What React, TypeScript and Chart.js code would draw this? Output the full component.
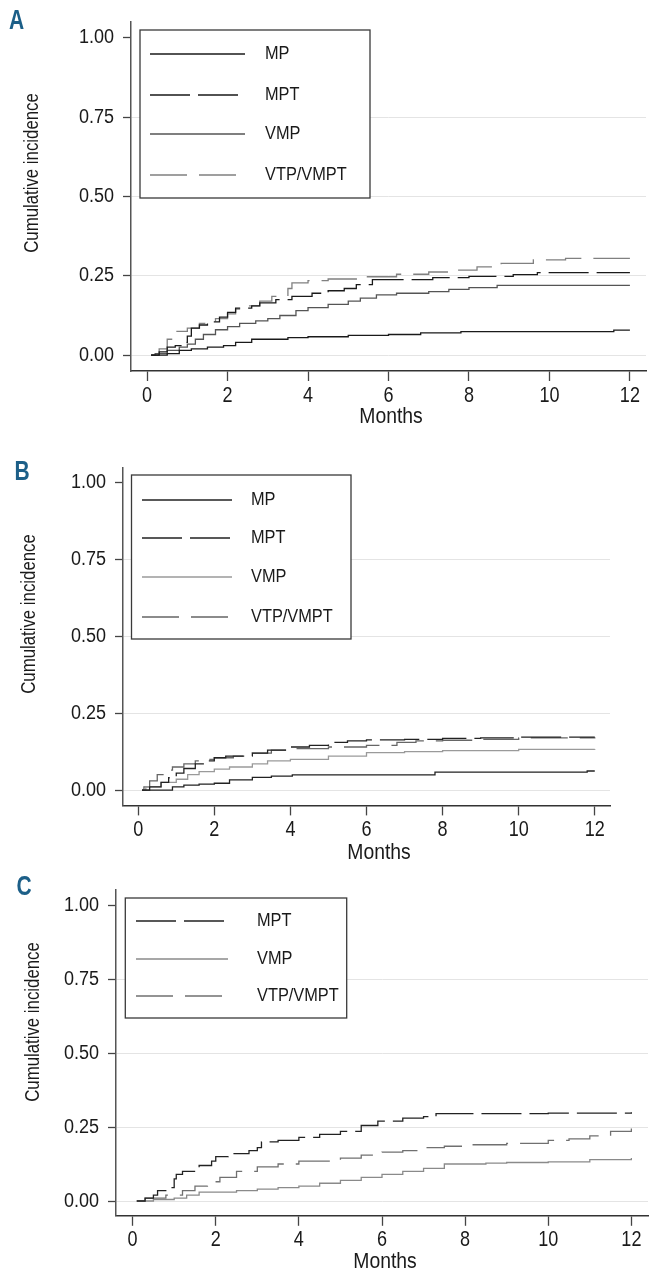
import React, { useEffect, useRef } from 'react';
import { Chart, registerables } from 'chart.js';

Chart.register(...registerables);

// ---------- data ----------
const MONTH_TICKS = [0, 2, 4, 6, 8, 10, 12];
const MONTH_TICK_LABELS = ['0', '2', '4', '6', '8', '10', '12'];
const INCIDENCE_TICKS = [0, 0.25, 0.5, 0.75, 1];
const INCIDENCE_TICK_LABELS = ['0.00', '0.25', '0.50', '0.75', '1.00'];
const X_TITLE = 'Months';
const Y_TITLE = 'Cumulative incidence';
const PANEL_LETTERS = ['A', 'B', 'C'];

// Panel A
const A_MP_T = [0.1, 0.5, 0.8, 1.1, 1.5, 1.9, 2.2, 2.6, 3.5, 4.0, 5.0, 6.0, 6.8, 7.8, 11.6, 12.0];
const A_MP_Y = [0, 0.005, 0.015, 0.02, 0.025, 0.03, 0.04, 0.05, 0.055, 0.058, 0.062, 0.065, 0.07, 0.074, 0.079, 0.079];
const A_MPT_T = [0.1, 0.3, 0.5, 0.7, 0.9, 1.0, 1.1, 1.3, 1.5, 1.8, 2.0, 2.2, 2.6, 2.8, 3.2, 3.6, 4.1, 4.5, 4.9, 5.2, 5.6, 7.1, 8.0, 9.1, 9.7, 12.0];
const A_MPT_Y = [0, 0.01, 0.025, 0.03, 0.04, 0.06, 0.085, 0.095, 0.105, 0.12, 0.135, 0.148, 0.155, 0.165, 0.175, 0.185, 0.195, 0.203, 0.21, 0.222, 0.238, 0.244, 0.248, 0.254, 0.26, 0.26];
const A_VMP_T = [0.1, 0.2, 0.5, 0.8, 1.0, 1.2, 1.4, 1.7, 2.0, 2.3, 2.7, 3.0, 3.3, 3.7, 4.0, 4.5, 5.0, 5.3, 5.7, 6.2, 7.0, 7.5, 8.0, 8.7, 12.0];
const A_VMP_Y = [0, 0.005, 0.015, 0.025, 0.035, 0.05, 0.065, 0.08, 0.09, 0.1, 0.108, 0.115, 0.125, 0.14, 0.15, 0.16, 0.17, 0.18, 0.19, 0.195, 0.2, 0.207, 0.213, 0.22, 0.22];
const A_VTP_T = [0.1, 0.3, 0.5, 0.7, 1.0, 1.3, 1.7, 2.0, 2.2, 2.5, 2.8, 3.1, 3.5, 3.6, 4.0, 4.5, 5.2, 6.2, 7.0, 7.6, 8.2, 8.8, 9.6, 10.4, 12.0];
const A_VTP_Y = [0, 0.02, 0.05, 0.075, 0.085, 0.1, 0.115, 0.13, 0.145, 0.155, 0.17, 0.185, 0.21, 0.228, 0.235, 0.24, 0.247, 0.255, 0.262, 0.268, 0.278, 0.289, 0.3, 0.305, 0.305];

// Panel B
const B_MP_T = [0.1, 0.9, 1.2, 1.6, 2.0, 2.4, 3.0, 3.5, 4.05, 7.8, 11.8, 12.0];
const B_MP_Y = [0, 0.01, 0.016, 0.019, 0.022, 0.033, 0.041, 0.045, 0.049, 0.058, 0.062, 0.062];
const B_MPT_T = [0.1, 0.3, 0.6, 0.8, 1.0, 1.2, 1.5, 1.8, 2.0, 2.3, 3.0, 3.4, 4.0, 4.5, 5.0, 5.5, 6.0, 7.0, 8.0, 9.0, 10.0, 12.0];
const B_MPT_Y = [0, 0.01, 0.025, 0.04, 0.055, 0.07, 0.085, 0.095, 0.105, 0.11, 0.12, 0.13, 0.14, 0.145, 0.155, 0.16, 0.163, 0.165, 0.168, 0.17, 0.172, 0.172];
const B_VMP_T = [0.1, 0.2, 0.6, 1.0, 1.3, 1.6, 2.0, 2.4, 3.0, 3.4, 4.0, 5.0, 6.0, 7.0, 8.0, 10.0, 12.0];
const B_VMP_Y = [0, 0.01, 0.025, 0.035, 0.05, 0.06, 0.068, 0.075, 0.085, 0.095, 0.1, 0.11, 0.122, 0.125, 0.128, 0.132, 0.133];
const B_VTP_T = [0.1, 0.15, 0.3, 0.5, 0.7, 0.9, 1.2, 1.5, 1.8, 2.0, 2.5, 3.0, 3.5, 4.0, 5.0, 6.0, 6.8, 7.3, 8.0, 9.0, 10.0, 12.0];
const B_VTP_Y = [0, 0.01, 0.03, 0.05, 0.065, 0.075, 0.085, 0.095, 0.1, 0.105, 0.11, 0.12, 0.13, 0.135, 0.14, 0.145, 0.155, 0.16, 0.162, 0.165, 0.17, 0.172];

// Panel C
const C_MPT_T = [0.1, 0.3, 0.5, 0.6, 0.9, 1.0, 1.05, 1.2, 1.6, 1.9, 2.0, 2.3, 2.8, 3.0, 3.1, 3.5, 4.0, 4.5, 5.0, 5.5, 5.9, 6.5, 7.0, 7.3, 10.0, 12.0];
const C_MPT_Y = [0, 0.01, 0.02, 0.035, 0.045, 0.075, 0.09, 0.1, 0.12, 0.135, 0.15, 0.16, 0.17, 0.18, 0.2, 0.205, 0.215, 0.225, 0.235, 0.255, 0.27, 0.28, 0.285, 0.295, 0.297, 0.3];
const C_VMP_T = [0.1, 0.5, 1.0, 1.3, 1.6, 2.5, 3.0, 3.5, 4.0, 4.5, 5.0, 5.5, 6.0, 6.5, 7.0, 7.5, 8.5, 9.0, 10.0, 11.0, 12.0];
const C_VMP_Y = [0, 0.005, 0.01, 0.02, 0.03, 0.035, 0.04, 0.045, 0.05, 0.06, 0.07, 0.08, 0.09, 0.1, 0.11, 0.125, 0.128, 0.13, 0.132, 0.14, 0.145];
const C_VTP_T = [0.1, 0.3, 0.8, 1.2, 1.5, 1.8, 2.1, 2.5, 3.0, 3.5, 4.0, 5.0, 5.5, 6.0, 6.5, 7.0, 7.5, 8.0, 9.0, 10.0, 10.5, 11.0, 11.5, 12.0];
const C_VTP_Y = [0, 0.01, 0.02, 0.035, 0.05, 0.065, 0.08, 0.1, 0.115, 0.125, 0.135, 0.145, 0.155, 0.165, 0.17, 0.18, 0.185, 0.19, 0.195, 0.205, 0.21, 0.22, 0.235, 0.245];

// ---------- styling ----------
const FONT = '"Liberation Sans", Arial, Helvetica, sans-serif';
const W = 655;

function pts(t: number[], y: number[]) {
  return t.map((x, i) => ({ x, y: y[i] }));
}

function series(label: string, t: number[], y: number[], color: string, dash: number[]) {
  return {
    label,
    data: pts(t, y),
    borderColor: color,
    backgroundColor: color,
    borderWidth: 1.3,
    borderDash: dash,
    stepped: true,
    pointRadius: 0,
    fill: false,
    tension: 0,
  };
}

const SOLID: number[] = [];
const DASH_MPT = [40, 8];
const DASH_VTP = [37, 12];

const PANELS = [
  {
    top: 0,
    h: 440,
    plot: { left: 131, right: 646, top: 22, bottom: 371 },
    letter: { x: 9, y: 29 },
    yTitle: { x: 32, y: 173 },
    xTitle: { x: 391, y: 417 },
    legend: { x1: 140, y1: 30, x2: 370, y2: 198, sx1: 150, sx2: 245, tx: 265, rows: [54, 95, 134, 175] },
    datasets: () => [
      series('MP', A_MP_T, A_MP_Y, '#1a1a1a', SOLID),
      series('MPT', A_MPT_T, A_MPT_Y, '#1a1a1a', DASH_MPT),
      series('VMP', A_VMP_T, A_VMP_Y, '#555555', SOLID),
      series('VTP/VMPT', A_VTP_T, A_VTP_Y, '#808080', DASH_VTP),
    ],
  },
  {
    top: 440,
    h: 430,
    plot: { left: 123, right: 610, top: 27.3, bottom: 365.4 },
    letter: { x: 14.5, y: 40 },
    yTitle: { x: 29, y: 174 },
    xTitle: { x: 379, y: 413 },
    legend: { x1: 131.5, y1: 35, x2: 351, y2: 199, sx1: 142, sx2: 232, tx: 251, rows: [60, 98, 137, 177] },
    datasets: () => [
      series('MP', B_MP_T, B_MP_Y, '#222222', SOLID),
      series('MPT', B_MPT_T, B_MPT_Y, '#222222', DASH_MPT),
      series('VMP', B_VMP_T, B_VMP_Y, '#9a9a9a', SOLID),
      series('VTP/VMPT', B_VTP_T, B_VTP_Y, '#666666', DASH_VTP),
    ],
  },
  {
    top: 870,
    h: 410,
    plot: { left: 116, right: 648, top: 20.2, bottom: 345.8 },
    letter: { x: 16.5, y: 25 },
    yTitle: { x: 33.4, y: 152 },
    xTitle: { x: 385, y: 392 },
    legend: { x1: 125.3, y1: 28, x2: 346.7, y2: 148, sx1: 136, sx2: 228, tx: 257, rows: [51, 89, 126] },
    datasets: () => [
      series('MPT', C_MPT_T, C_MPT_Y, '#222222', DASH_MPT),
      series('VMP', C_VMP_T, C_VMP_Y, '#8a8a8a', SOLID),
      series('VTP/VMPT', C_VTP_T, C_VTP_Y, '#707070', DASH_VTP),
    ],
  },
];

function drawText(
  ctx: CanvasRenderingContext2D,
  text: string,
  x: number,
  y: number,
  font: string,
  sx: number,
  align: CanvasTextAlign,
  baseline: CanvasTextBaseline,
  rot: number,
  color: string
) {
  ctx.save();
  ctx.translate(x, y);
  if (rot) ctx.rotate(rot);
  ctx.scale(sx, 1);
  ctx.font = font;
  ctx.fillStyle = color;
  ctx.textAlign = align;
  ctx.textBaseline = baseline;
  ctx.fillText(text, 0, 0);
  ctx.restore();
}

const decorPlugin = {
  id: 'panelDecor',
  afterDraw(chart: any, _args: any, opts: any) {
    const ctx: CanvasRenderingContext2D = chart.ctx;
    const L = opts.legend;
    const xs = chart.scales.x;
    const ys = chart.scales.y;
    ctx.save();
    // tick labels, placed through the chart's own scales
    MONTH_TICKS.forEach((v, i) => {
      const px = xs.getPixelForValue(v);
      drawText(ctx, MONTH_TICK_LABELS[i], px, xs.top + 24.5, `22px ${FONT}`, 0.82, 'center', 'middle', 0, '#1a1a1a');
    });
    INCIDENCE_TICKS.forEach((v, i) => {
      const py = ys.getPixelForValue(v);
      drawText(ctx, INCIDENCE_TICK_LABELS[i], ys.right - 17, py, `20px ${FONT}`, 0.9, 'right', 'middle', 0, '#1a1a1a');
    });
    // legend box
    ctx.fillStyle = '#ffffff';
    ctx.fillRect(L.x1, L.y1, L.x2 - L.x1, L.y2 - L.y1);
    ctx.strokeStyle = '#3a3a3a';
    ctx.lineWidth = 1.3;
    ctx.setLineDash([]);
    ctx.strokeRect(L.x1, L.y1, L.x2 - L.x1, L.y2 - L.y1);
    chart.data.datasets.forEach((ds: any, i: number) => {
      const y = L.rows[i];
      ctx.beginPath();
      ctx.setLineDash(ds.borderDash || []);
      ctx.strokeStyle = ds.borderColor;
      ctx.lineWidth = ds.borderWidth;
      ctx.moveTo(L.sx1, y);
      ctx.lineTo(L.sx2, y);
      ctx.stroke();
      ctx.setLineDash([]);
      drawText(ctx, ds.label, L.tx, y, `19px ${FONT}`, 0.86, 'left', 'middle', 0, '#1a1a1a');
    });
    // panel letter
    drawText(ctx, opts.letterText, opts.letter.x, opts.letter.y, `bold 28px ${FONT}`, 0.75, 'left', 'alphabetic', 0, '#1c5f88');
    // axis titles
    drawText(ctx, Y_TITLE, opts.yTitle.x, opts.yTitle.y, `20px ${FONT}`, 0.84, 'center', 'middle', -Math.PI / 2, '#1a1a1a');
    drawText(ctx, X_TITLE, opts.xTitle.x, opts.xTitle.y, `22px ${FONT}`, 0.88, 'center', 'middle', 0, '#1a1a1a');
    ctx.restore();
  },
};

function Panel({ cfg, letter }: { cfg: any; letter: string }) {
  const ref = useRef<HTMLCanvasElement | null>(null);
  useEffect(() => {
    if (!ref.current) return;
    const chart = new Chart(ref.current, {
      type: 'line',
      data: { datasets: cfg.datasets() },
      plugins: [decorPlugin as any],
      options: {
        animation: false,
        responsive: false,
        maintainAspectRatio: false,
        layout: {
          autoPadding: false,
          padding: { left: 0, top: cfg.plot.top, right: W - cfg.plot.right, bottom: 0 },
        },
        plugins: {
          legend: { display: false },
          tooltip: { enabled: false },
          title: { display: false },
          panelDecor: {
            legend: cfg.legend,
            letter: cfg.letter,
            letterText: letter,
            yTitle: cfg.yTitle,
            xTitle: cfg.xTitle,
          },
        } as any,
        scales: {
          x: {
            type: 'linear',
            min: -0.4,
            max: 12.4,
            afterBuildTicks: (s: any) => {
              s.ticks = MONTH_TICKS.map((v) => ({ value: v }));
            },
            afterFit: (s: any) => {
              s.height = cfg.h - cfg.plot.bottom;
            },
            grid: {
              drawOnChartArea: false,
              drawTicks: true,
              tickLength: 10,
              tickColor: '#444444',
              tickWidth: 1.3,
            },
            border: { display: true, color: '#333333', width: 1.5 },
            ticks: { display: false, autoSkip: false, maxRotation: 0 },
          },
          y: {
            type: 'linear',
            min: -0.05,
            max: 1.05,
            afterBuildTicks: (s: any) => {
              s.ticks = INCIDENCE_TICKS.map((v) => ({ value: v }));
            },
            afterFit: (s: any) => {
              s.width = cfg.plot.left;
            },
            grid: {
              color: (c: any) => (c.tick && c.tick.value === 1 ? 'rgba(0,0,0,0)' : '#e4e4e4'),
              lineWidth: 1,
              drawTicks: true,
              tickLength: 8,
              tickColor: '#444444',
              tickWidth: 1.3,
            },
            border: { display: true, color: '#555555', width: 1.5 },
            ticks: { display: false, autoSkip: false },
          },
        },
      } as any,
    });
    return () => chart.destroy();
  }, [cfg, letter]);
  return (
    <canvas
      ref={ref}
      width={W}
      height={cfg.h}
      style={{ position: 'absolute', left: 0, top: cfg.top, width: W, height: cfg.h }}
    />
  );
}

export default function App() {
  return (
    <div style={{ position: 'absolute', left: 0, top: 0, width: W, height: 1280, background: '#ffffff' }}>
      {PANELS.map((p, i) => (
        <Panel key={i} cfg={p} letter={PANEL_LETTERS[i]} />
      ))}
    </div>
  );
}
